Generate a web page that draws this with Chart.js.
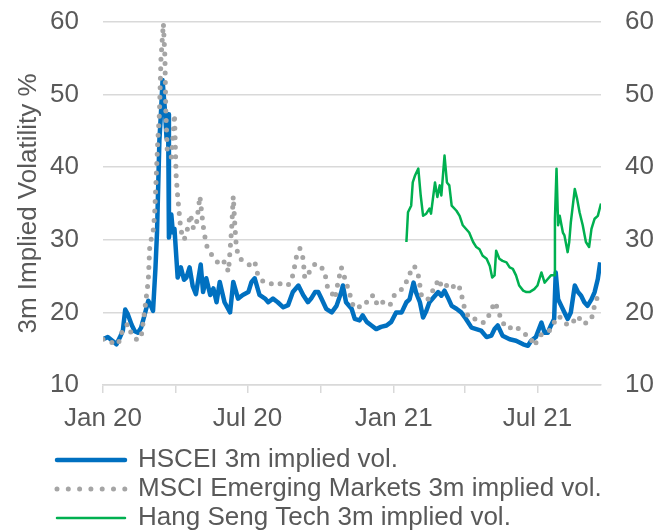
<!DOCTYPE html>
<html>
<head>
<meta charset="utf-8">
<script src="https://cdn.jsdelivr.net/npm/chart.js@4/dist/chart.umd.min.js"></script>
<style>
  html, body { margin: 0; padding: 0; background: #ffffff; }
  #wrap { width: 668px; height: 532px; position: relative; }
</style>
</head>
<body>
<div id="wrap"><canvas id="c"></canvas></div>
<script>
// x values: days since 1 Jan 2020
const hsceiDays = [0,6,13,17,21,25,28,31,36,40,44,48,52,57,60,63,66,68,71,73,75,78,80,82,83,86,88,90,94,98,102,105,109,113,117,123,126,130,135,139,143,147,153,160,164,170,176,183,187,191,197,204,208,214,220,227,233,239,246,252,258,262,267,271,275,281,288,294,300,302,306,313,317,323,327,332,338,344,350,357,363,369,376,382,386,391,394,399,403,407,411,418,422,426,430,434,439,445,451,457,464,470,476,483,489,493,497,503,512,520,529,535,539,545,552,556,560,564,568,570,573,577,581,585,589,594,598,602,606,610,615,619,623,626];
const hsceiVol = [16.3,16.6,16.0,15.6,16.5,17.5,20.4,19.8,18.3,17.4,17.2,17.9,19.5,21.6,21.0,20.2,26.0,31.0,43.7,47.5,52.0,47.8,44.0,47.3,30.3,33.5,31.0,31.5,24.8,26.2,24.5,24.8,26.2,23.6,22.5,26.6,22.8,24.7,22.4,23.3,21.4,24.2,21.4,20.0,24.2,21.9,22.4,22.8,24.2,24.7,22.4,21.9,21.4,21.9,21.4,20.7,21.0,22.8,23.7,22.4,21.4,21.9,22.8,22.8,21.9,20.5,20.0,20.9,22.8,23.7,21.4,20.5,19.1,18.9,19.6,18.7,18.2,17.7,18.0,18.2,18.7,20.0,20.0,21.4,21.8,24.1,22.8,21.4,19.3,20.2,21.4,22.3,22.8,22.3,23.0,22.1,20.9,20.5,20.0,19.1,17.9,17.7,17.5,16.6,16.8,17.7,18.2,16.8,16.3,16.1,15.6,15.4,16.1,16.6,18.6,17.2,17.2,18.2,19.1,25.5,21.8,20.9,20.0,19.1,20.0,23.7,22.8,22.3,21.4,20.9,21.8,22.8,24.6,26.9];

const msciDays = [0,6,13,19,25,31,36,40,44,48,52,57,59,63,65,69,71,73,76,78,79,81,86,88,90,92,94,98,102,105,110,114,118,122,126,130,137,141,147,153,158,162,164,166,168,172,179,185,191,195,202,208,216,225,233,239,244,248,252,254,260,267,273,279,283,290,292,296,300,306,311,315,321,327,334,340,346,352,361,367,373,380,386,392,397,401,405,409,413,418,422,426,430,436,443,447,451,453,457,462,468,474,480,487,493,497,501,503,510,518,524,531,537,543,550,556,562,568,573,579,585,591,598,604,610,615,619,623,626];
const msciVol = [16.3,16.0,15.8,15.6,17.7,18.4,17.0,16.4,16.2,16.6,19.8,24.4,29.4,31.0,33.5,43.7,47.3,55.0,59.8,55.0,48.0,42.0,41.4,44.0,47.3,39.0,36.0,31.3,30.0,30.8,33.5,31.5,32.5,36.0,32.0,29.3,27.9,27.4,26.5,27.0,25.6,31.6,36.0,32.0,28.8,27.4,27.0,26.5,27.0,25.1,24.2,24.2,23.7,24.0,23.7,25.1,27.9,28.8,27.4,24.7,25.6,26.7,26.5,25.6,23.3,22.4,21.9,24.2,26.2,24.2,22.4,20.9,20.5,21.4,21.4,22.4,20.9,21.4,20.9,22.4,22.8,23.7,25.3,26.4,25.1,22.3,21.8,21.8,22.8,23.2,24.6,23.7,24.1,23.2,23.7,23.9,22.8,21.4,20.0,19.1,19.1,18.6,18.6,19.8,21.4,20.5,19.1,18.6,17.7,18.2,17.7,17.0,16.8,15.4,16.8,17.2,17.5,18.6,19.5,19.1,18.2,18.6,19.5,18.4,18.6,19.1,21.0,22.3,22.5];

const hstDays = [382,384,388,390,393,397,400,403,407,411,413,418,421,424,426,430,433,436,439,445,449,453,461,466,470,474,478,483,487,490,493,495,499,503,508,512,516,520,524,529,533,537,543,547,552,556,560,564,568,569,571,573,575,579,581,585,587,589,594,597,600,604,608,612,615,619,623,627];
const hstVol = [29.7,33.8,34.7,37.9,38.9,39.8,36.1,33.3,33.6,34.3,33.6,37.9,35.9,37.5,36.1,41.6,37.9,37.5,34.7,34.0,33.3,32.0,31.0,29.7,29.0,28.7,27.8,27.4,26.4,24.8,25.1,28.5,27.4,27.1,26.9,26.2,26.0,25.1,23.7,23.0,22.8,22.8,23.2,23.7,25.5,24.1,24.6,25.1,25.1,32.9,39.8,32.0,33.3,31.0,30.6,28.3,29.7,32.4,37.0,35.6,33.8,32.0,29.7,29.0,31.5,32.9,33.3,35.0];

const seriesNames = ['HSCEI 3m implied vol.', 'MSCI Emerging Markets 3m implied vol.', 'Hang Seng Tech 3m implied vol.'];
const quarterTicks = [0, 91, 182, 274, 366, 456, 547];
const tickLabels = {0: 'Jan 20', 182: 'Jul 20', 366: 'Jan 21', 547: 'Jul 21'};
const yTitle = '3m Implied Volatility %';

const toPts = (xs, ys) => xs.map((x, i) => ({x: x, y: ys[i]}));

const FONT = "'Liberation Sans', Arial, sans-serif";
const TXT = '#595959';
const GRID = '#D9D9D9';

const legendShift = {
  id: 'legendShift',
  afterLayout(chart) {
    const lg = chart.legend;
    if (lg) { lg.left = 54; lg.top += 9; lg.bottom += 9; }
  }
};

new Chart(document.getElementById('c'), {
  type: 'line',
  data: {
    datasets: [
      { label: seriesNames[0], data: toPts(hsceiDays, hsceiVol), borderColor: '#0070C0', backgroundColor: '#0070C0',
        borderWidth: 4.5, pointRadius: 0, tension: 0, order: 3, borderJoinStyle: 'round' },
      { label: seriesNames[1], data: toPts(msciDays, msciVol), borderColor: '#A5A5A5', backgroundColor: '#A5A5A5',
        borderWidth: 5, borderDash: [0, 9.5], borderCapStyle: 'round', pointRadius: 0, tension: 0, order: 2 },
      { label: seriesNames[2], data: toPts(hstDays, hstVol), borderColor: '#00B050', backgroundColor: '#00B050',
        borderWidth: 2.5, pointRadius: 0, tension: 0, order: 1, borderJoinStyle: 'round' }
    ]
  },
  options: {
    responsive: true,
    maintainAspectRatio: false,
    devicePixelRatio: 1,
    animation: false,
    layout: { padding: { top: 22, left: 12, right: 14, bottom: 0 } },
    font: { family: FONT },
    plugins: {
      legend: {
        position: 'bottom',
        align: 'start',
        labels: {
          usePointStyle: true,
          pointStyle: 'line',
          pointStyleWidth: 68,
          boxHeight: 26,
          padding: 3,
          color: TXT,
          font: { family: FONT, size: 26 },
          sort: (a, b) => a.datasetIndex - b.datasetIndex,
          generateLabels: (chart) => {
            const items = Chart.defaults.plugins.legend.labels.generateLabels(chart);
            items.forEach((it) => {
              const ds = chart.data.datasets[it.datasetIndex];
              it.lineWidth = ds.borderWidth;
              it.strokeStyle = ds.borderColor;
              if (ds.borderDash) { it.lineDash = [0, 11.3]; it.lineCap = 'round'; }
              else { it.lineDash = []; it.lineCap = 'round'; }
            });
            return items;
          }
        }
      },
      tooltip: { enabled: false }
    },
    scales: {
      x: {
        type: 'linear',
        min: 0,
        max: 627,
        afterBuildTicks: (scale) => { scale.ticks = quarterTicks.map(v => ({value: v})); },
        afterFit: (scale) => { scale.height = 50; scale.paddingLeft = 0; scale.paddingRight = 0; },
        ticks: {
          autoSkip: false, maxRotation: 0, padding: 10, color: TXT,
          font: { family: FONT, size: 26 },
          callback: (v) => tickLabels[v] || ''
        },
        grid: { drawOnChartArea: false, drawTicks: true, tickLength: 8, color: GRID, lineWidth: 1.5 },
        border: { display: true, color: GRID, width: 1.5 }
      },
      y: {
        position: 'left',
        min: 10, max: 60,
        afterFit: (scale) => { scale.width = 91; scale.paddingTop = 0; scale.paddingBottom = 0; },
        ticks: { stepSize: 10, padding: 24, color: TXT, font: { family: FONT, size: 26 } },
        grid: { color: GRID, lineWidth: 1.5, drawTicks: false },
        border: { display: false },
        title: { display: true, text: yTitle, color: TXT, font: { family: FONT, size: 26 }, padding: { top: 1, bottom: 4 } }
      },
      y2: {
        position: 'right',
        min: 10, max: 60,
        afterFit: (scale) => { scale.width = 53; scale.paddingTop = 0; scale.paddingBottom = 0; },
        ticks: { stepSize: 10, padding: 24, color: TXT, font: { family: FONT, size: 26 } },
        grid: { display: false, drawTicks: false },
        border: { display: false }
      }
    }
  },
  plugins: [legendShift]
});
</script>
</body>
</html>
